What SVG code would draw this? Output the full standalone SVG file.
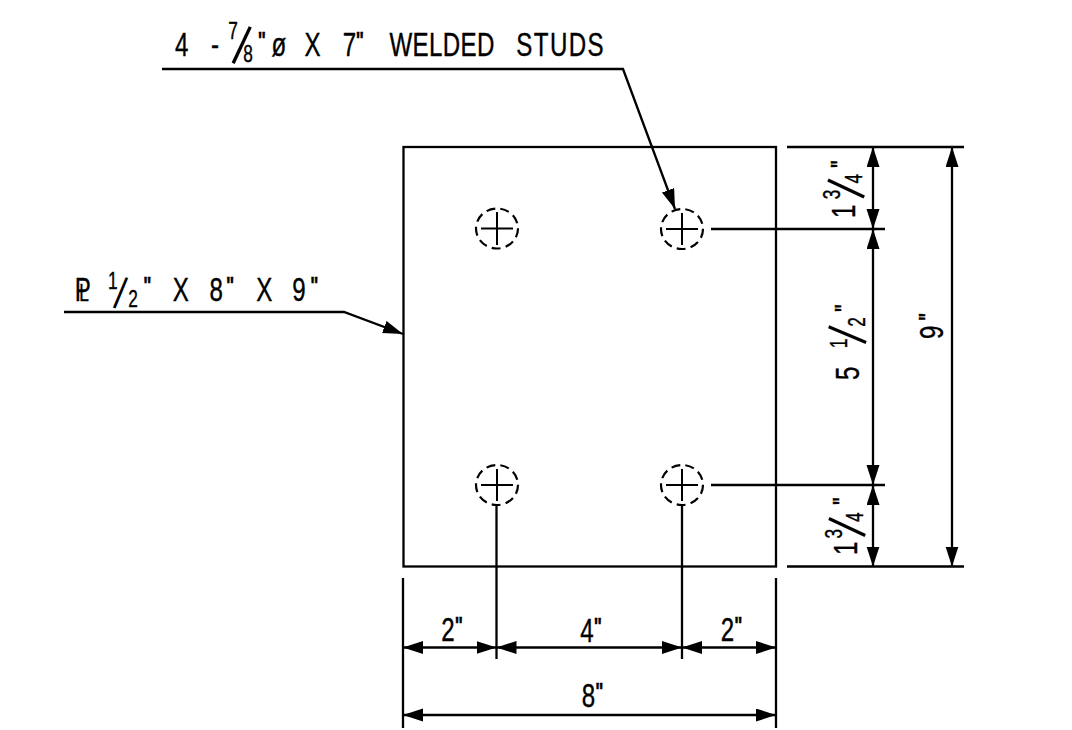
<svg xmlns="http://www.w3.org/2000/svg" width="1072" height="730" viewBox="0 0 1072 730">
<style>
.l{fill:none;stroke:#000;stroke-width:2.3}
.h{fill:none;stroke:#000;stroke-width:2.2;stroke-dasharray:9 5.2}
.c{fill:none;stroke:#000;stroke-width:2}
.a{marker-end:url(#ar)}
.b{marker-start:url(#ar);marker-end:url(#ar)}
text{font-family:"Liberation Sans",Arial,sans-serif;font-size:33.5px;fill:#000;stroke:#000;stroke-width:.4}
.s{font-size:24px}
.f{font-size:57px;stroke:none}
.g{font-size:46px;stroke:none}
.q{font-size:24px;font-weight:700}
</style>
<defs>
<marker id="ar" markerUnits="userSpaceOnUse" markerWidth="22" markerHeight="14" refX="20" refY="6.5" orient="auto-start-reverse"><path d="M0 0L20 6.5L0 13z" fill="#000"/></marker>
</defs>
<rect width="1072" height="730" fill="#fff"/>
<g id="plate"><rect class="l" x="403.5" y="147" width="372.5" height="419.5"/></g>
<g id="hole-1"><ellipse class="h" cx="497" cy="228.500" rx="21" ry="20"/><path class="c" d="M481 228.500H513M497 212V245"/></g>
<g id="hole-2"><ellipse class="h" cx="682" cy="229" rx="21" ry="20"/><path class="c" d="M666 229H698M682 213V245"/></g>
<g id="hole-3"><ellipse class="h" cx="497" cy="485" rx="21" ry="20"/><path class="c" d="M481 485H513M497 469V501"/></g>
<g id="hole-4"><ellipse class="h" cx="682" cy="485" rx="21" ry="20"/><path class="c" d="M666 485H698M682 469V501"/></g>
<g id="connectors">
<path class="l" d="M787 147H964M787 566.500H964M711 229H885M711 485H885M496.500 506V659M682 506V659M403 578V728M776 578V728"/>
<path class="l a" d="M162 69H623L675 209"/>
<path class="l a" d="M64 312H344L403 334"/>
<path class="l b" d="M873 147V229"/>
<path class="l b" d="M873 229V485"/>
<path class="l b" d="M873 485V566.500"/>
<path class="l b" d="M952 147V566.500"/>
<path class="l b" d="M403 647.500H496.500"/>
<path class="l b" d="M496.500 647.500H682"/>
<path class="l b" d="M682 647.500H776"/>
<path class="l b" d="M403 715H776"/>
</g>
<g id="label-studs"><text transform="scale(.72 1)" y="56"><tspan x="243">4 </tspan><tspan x="293">-</tspan><tspan class="s" x="317" y="39">7</tspan><tspan class="f" x="322" y="62" rotate="18">/</tspan><tspan class="s" x="338" y="62">8</tspan><tspan class="q" x="358" y="49">"</tspan><tspan x="377" y="56">ø </tspan><tspan x="423">X </tspan><tspan x="476">7</tspan><tspan class="q" x="494" y="49">" </tspan><tspan x="541" y="56" letter-spacing=".5">WELDED </tspan><tspan x="717" letter-spacing="2">STUDS</tspan></text></g>
<g id="label-plate"><text transform="scale(.72 1)" y="301"><tspan x="104">P</tspan><tspan class="s" x="110">L </tspan><tspan class="s" x="150" y="289">1</tspan><tspan class="g" x="157" y="307" rotate="15">/</tspan><tspan class="s" x="178" y="307">2</tspan><tspan class="q" x="199" y="294">" </tspan><tspan x="240" y="301">X </tspan><tspan x="291">8</tspan><tspan class="q" x="314" y="294">" </tspan><tspan x="356" y="301">X </tspan><tspan x="406">9</tspan><tspan class="q" x="431" y="294">"</tspan></text></g>
<g id="dim-2a"><text transform="scale(.72 1)" x="613" y="641">2<tspan class="q" y="634">"</tspan></text></g>
<g id="dim-4"><text transform="scale(.72 1)" x="806" y="642">4<tspan class="q" y="635">"</tspan></text></g>
<g id="dim-2b"><text transform="scale(.72 1)" x="1001" y="641">2<tspan class="q" y="634">"</tspan></text></g>
<g id="dim-8"><text transform="scale(.72 1)" x="808" y="707">8<tspan class="q" y="700">"</tspan></text></g>
<g id="dim-134a"><text transform="translate(855 218) rotate(-90) scale(.72 1)" y="0"><tspan x="0">1</tspan><tspan class="s" x="26" y="-15">3</tspan><tspan class="f" x="27" y="8" rotate="18">/</tspan><tspan class="s" x="48" y="7">4</tspan><tspan class="q" x="69" y="-7">"</tspan></text></g>
<g id="dim-512"><text transform="translate(859 380) rotate(-90) scale(.72 1)" y="0"><tspan x="0">5 </tspan><tspan class="s" x="44" y="-12">1</tspan><tspan class="f" x="50" y="6" rotate="15">/</tspan><tspan class="s" x="74" y="6">2</tspan><tspan class="q" x="94" y="-7">"</tspan></text></g>
<g id="dim-134b"><text transform="translate(857 555) rotate(-90) scale(.72 1)" y="0"><tspan x="0">1</tspan><tspan class="s" x="23" y="-15">3</tspan><tspan class="f" x="25" y="7" rotate="18">/</tspan><tspan class="s" x="46" y="6">4</tspan><tspan class="q" x="69" y="-7">"</tspan></text></g>
<g id="dim-9"><text transform="translate(943 339) rotate(-90) scale(.72 1)" y="0">9<tspan class="q" x="25" y="-7">"</tspan></text></g>
</svg>
